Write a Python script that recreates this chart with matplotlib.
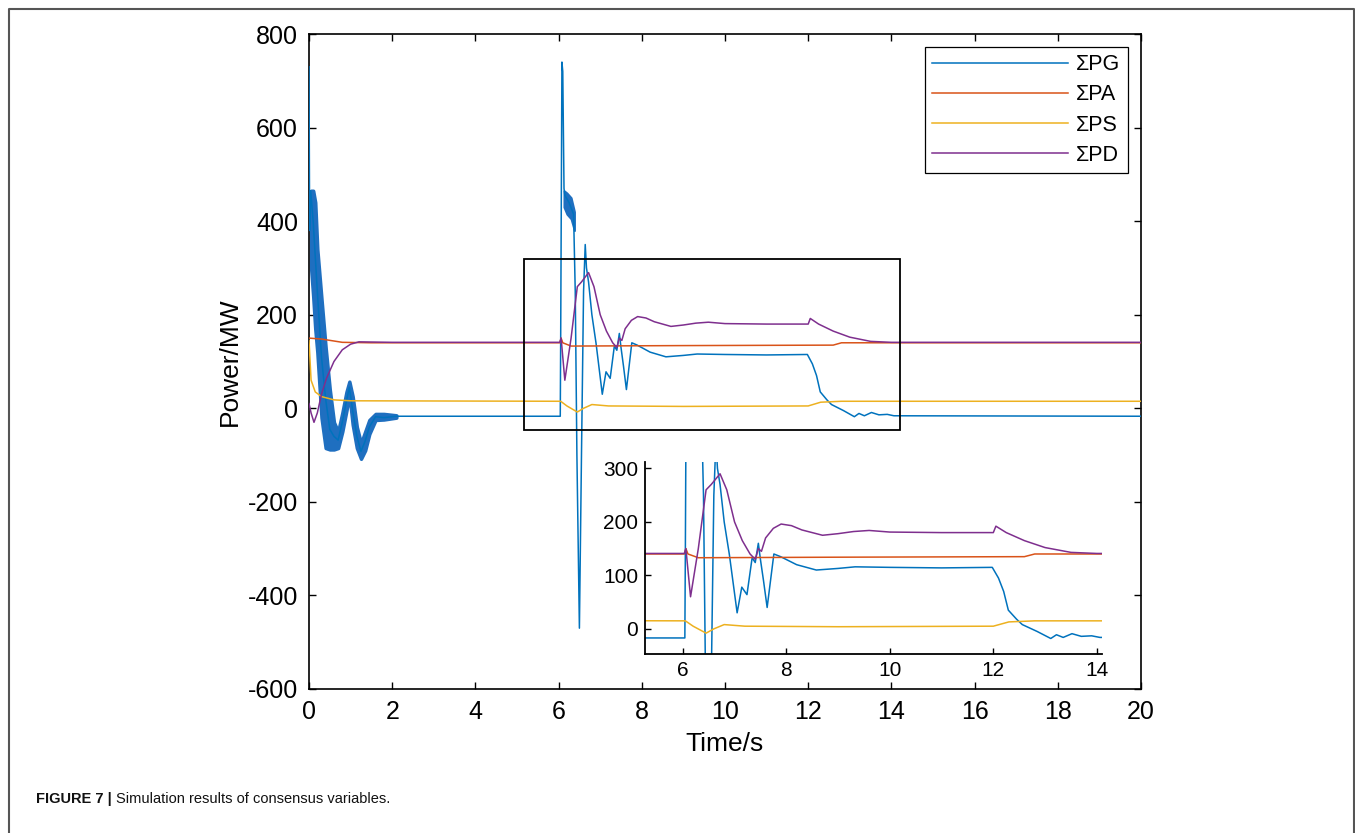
import matplotlib
matplotlib.use("Agg")
import matplotlib.pyplot as plt
from matplotlib.lines import Line2D
from matplotlib.patches import Rectangle
from matplotlib import font_manager

plt.rcParams['font.family'] = ['Liberation Sans', 'DejaVu Sans']
plt.rcParams['axes.unicode_minus'] = False

# ---------------- data ----------------
pg_t = [0.0, 0.015, 0.04, 0.10, 0.20, 0.30, 0.40, 0.50, 0.60, 0.70, 0.80, 0.90, 0.97,
        1.05, 1.15, 1.25, 1.35, 1.45, 1.60, 1.80, 2.10,
        6.04, 6.05, 6.08, 6.10, 6.13, 6.15, 6.25, 6.36, 6.40, 6.44, 6.50, 6.55, 6.60,
        6.64, 6.67, 6.72, 6.80, 6.90, 7.05, 7.14, 7.24, 7.34, 7.40, 7.46, 7.50, 7.56,
        7.63, 7.76, 7.89, 8.20, 8.58, 9.00, 9.33, 10.0, 11.0, 11.98, 12.10, 12.20,
        12.29, 12.45, 12.56, 12.85, 13.11, 13.22, 13.35, 13.52, 13.70, 13.90, 14.06, 20.0]
pg_v = [730, 380, 465, 400, 250, 110, 20, -45, -60, -68, -30, 15, 45,
        -5, -60, -92, -70, -40, -18, -20, -17,
        -17, 150, 740, 720, 470, 455, 440, 415, 250, -100, -470, -100, 250,
        350, 300, 270, 200, 139, 30, 78, 64, 133, 124, 160, 130, 90,
        40, 140, 135, 120, 110, 113, 116, 115, 114, 115, 95, 70,
        35, 18, 8, -5, -18, -11, -16, -9, -14, -13, -16, -17]

band_t = [0.05, 0.10, 0.15, 0.20, 0.30, 0.40, 0.50, 0.60, 0.70, 0.80, 0.90, 0.97,
          1.05, 1.15, 1.25, 1.35, 1.45, 1.60, 1.80, 2.10]
band_hi = [465, 465, 440, 340, 234, 130, 40, -30, -50, -10, 35, 57,
           25, -40, -75, -50, -25, -12, -12, -15]
band_lo = [300, 240, 170, 120, -20, -85, -88, -88, -85, -50, -5, 30,
           -35, -85, -108, -90, -55, -25, -24, -20]

band2_t = [6.13, 6.20, 6.30, 6.38]
band2_hi = [465, 460, 450, 420]
band2_lo = [430, 415, 405, 380]

pa_t = [0.0, 0.3, 0.8, 1.5, 6.03, 6.06, 6.10, 6.30, 9.0, 12.6, 12.8, 20.0]
pa_v = [150, 148, 141, 140, 140, 150, 140, 133, 134, 135, 140, 140]

ps_t = [0.0, 0.05, 0.15, 0.30, 0.60, 1.0, 6.05, 6.20, 6.45, 6.60, 6.80, 7.2, 9.0, 12.0, 12.3, 12.8, 20.0]
ps_v = [145, 60, 35, 25, 18, 16, 15, 5, -8, 0, 8, 5, 4, 5, 13, 15, 15]

pd_t = [0.0, 0.05, 0.12, 0.20, 0.30, 0.42, 0.60, 0.80, 1.0, 1.2, 2.0, 6.03, 6.06, 6.15,
        6.30, 6.45, 6.55, 6.72, 6.85, 7.00, 7.15, 7.30, 7.40, 7.46, 7.52, 7.60, 7.75,
        7.90, 8.10, 8.30, 8.70, 9.00, 9.30, 9.60, 10.0, 11.0, 12.0, 12.05, 12.25,
        12.60, 13.0, 13.5, 14.0, 20.0]
pd_v = [10, -10, -30, -10, 30, 64, 100, 125, 137, 142, 141, 141, 150, 60,
        150, 260, 270, 290, 260, 200, 165, 140, 130, 150, 145, 170, 188,
        196, 193, 185, 175, 178, 182, 184, 181, 180, 180, 192, 180,
        165, 152, 143, 141, 141]

labels = ['ΣPG', 'ΣPA', 'ΣPS', 'ΣPD']
colors = ['#0072BD', '#D95319', '#EDB120', '#7E2F8E']

main_xticks = [0, 2, 4, 6, 8, 10, 12, 14, 16, 18, 20]
main_yticks = [-600, -400, -200, 0, 200, 400, 600, 800]
inset_xticks = [6, 8, 10, 12, 14]
inset_yticks = [0, 100, 200, 300]

# ---------------- figure ----------------
W, H = 1355, 833
fig = plt.figure(figsize=(W / 100, H / 100), dpi=100)

def fx(px):
    return px / W

def fy(py):
    return 1 - py / H

ax = fig.add_axes([fx(309), fy(689), fx(1141) - fx(309), fy(34) - fy(689)])
ax.fill_between(band_t, band_lo, band_hi, color='#1f6fc0', lw=2.5, edgecolor='#1f6fc0', zorder=2)
ax.fill_between(band2_t, band2_lo, band2_hi, color='#1f6fc0', lw=1.5, edgecolor='#1f6fc0', zorder=2)
series = [(pg_t, pg_v), (pa_t, pa_v), (ps_t, ps_v), (pd_t, pd_v)]
for (t, v), c, lab in zip(series, colors, labels):
    ax.plot(t, v, color=c, lw=1.1, label=lab, zorder=3)

ax.set_xlim(0, 20)
ax.set_ylim(-600, 800)
ax.set_xticks(main_xticks)
ax.set_yticks(main_yticks)
ax.tick_params(direction='in', top=True, right=True, labelsize=18, length=5, width=1, pad=8)
for s in ax.spines.values():
    s.set_linewidth(1.2)
ax.set_xlabel('Time/s', fontsize=19, labelpad=6)
ax.set_ylabel('Power/MW', fontsize=19, labelpad=4)

ax.add_patch(Rectangle((5.17, -46), 14.2 - 5.17, 366, fill=False, edgecolor='black', lw=1.3, zorder=4))

leg = ax.legend(loc='upper right', fontsize=15.5, handlelength=6.3, labelspacing=0.42,
                borderaxespad=0.6, fancybox=False, edgecolor='black', framealpha=1,
                handletextpad=0.4, borderpad=0.35)
leg.get_frame().set_linewidth(0.9)

# ---------------- inset ----------------
axi = fig.add_axes([fx(645), fy(654), fx(1102) - fx(645), fy(462) - fy(654)])
axi.fill_between(band_t, band_lo, band_hi, color='#1f6fc0')
for (t, v), c in zip(series, colors):
    axi.plot(t, v, color=c, lw=1.1)
axi.set_xlim(5.27, 14.1)
axi.set_ylim(-47, 312)
axi.set_xticks(inset_xticks)
axi.set_yticks(inset_yticks)
axi.spines['top'].set_visible(False)
axi.spines['right'].set_visible(False)
for s in ('left', 'bottom'):
    axi.spines[s].set_linewidth(1.3)
axi.tick_params(direction='in', labelsize=15, length=4, width=1, pad=5)

# ---------------- page frame and caption ----------------
frame = Line2D([fx(9), fx(9), fx(1354), fx(1354)], [0, fy(9), fy(9), 0],
               transform=fig.transFigure, color='#555555', lw=1.5)
fig.add_artist(frame)

names = {f.name for f in font_manager.fontManager.ttflist}
cap_family = ['Liberation Sans Narrow', 'Liberation Sans'] if 'Liberation Sans Narrow' in names else ['Liberation Sans']
cap_size = 12.5 if 'Liberation Sans Narrow' in names else 10.5

t1 = fig.text(fx(36), fy(799), 'FIGURE 7 |', fontsize=cap_size, fontweight='bold',
              va='center', ha='left', color='#111111', family=cap_family)
fig.canvas.draw()
bb = t1.get_window_extent()
fig.text(bb.x1 / W + 4 / W, fy(799), 'Simulation results of consensus variables.',
         fontsize=cap_size, va='center', ha='left', color='#111111', family=cap_family)

fig.savefig('out.png', dpi=100)
